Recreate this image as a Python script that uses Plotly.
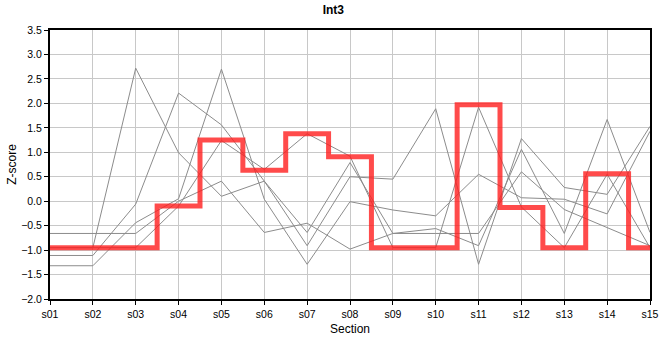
import plotly.graph_objects as go

sections = ["s01", "s02", "s03", "s04", "s05", "s06", "s07", "s08",
            "s09", "s10", "s11", "s12", "s13", "s14", "s15"]

highlight = [-0.95, -0.95, -0.95, -0.10, 1.25, 0.63, 1.38, 0.91,
             -0.95, -0.95, 1.97, -0.13, -0.95, 0.56, -0.95]

series_h = [-0.95, -0.95, -0.95, -0.10, 1.24, 0.65, 1.38, 0.92,
            -0.95, -0.95, 1.92, -0.12, -0.95, 0.55, -0.95]
series_a = [-0.95, -0.95, 2.72, 0.99, 0.10, 0.41, -0.64, 0.79,
            -0.66, -0.56, -0.91, 1.06, -0.66, 1.67, -0.64]
series_b = [-1.11, -1.11, -0.06, 2.21, 1.56, 0.41, -0.91, 0.50,
            0.45, 1.89, -1.29, 1.28, 0.28, 0.14, 1.53]
series_c = [-1.32, -1.32, -0.44, 0.05, 2.70, 0.04, -1.29, -0.01,
            -0.18, -0.30, 0.55, 0.07, 0.04, -0.26, 1.43]
series_d = [-0.66, -0.66, -0.66, 0.00, 0.41, -0.64, -0.45, -0.98,
            -0.66, -0.66, -0.66, 0.60, -0.17, -0.54, -0.91]

gray_series = [series_a, series_b, series_c, series_d, series_h]

y_ticks = [-2.0, -1.5, -1.0, -0.5, 0.0, 0.5, 1.0, 1.5, 2.0, 2.5, 3.0, 3.5]

fig = go.Figure()
for s in gray_series:
    fig.add_trace(go.Scatter(x=sections, y=s, mode="lines",
                             line=dict(color="#8c8c8c", width=1),
                             showlegend=False, hoverinfo="skip"))

fig.add_trace(go.Scatter(x=sections, y=highlight, mode="lines",
                         line=dict(color="rgba(255,30,30,0.8)", width=5, shape="hvh"),
                         showlegend=False))

font = "Liberation Sans, Arial, sans-serif"
fig.update_layout(
    width=660, height=360,
    margin=dict(l=50, r=10, t=30, b=61, autoexpand=False),
    paper_bgcolor="white", plot_bgcolor="white",
    title=dict(text="<b>Int3</b>", x=0.505, xref="container", y=0.985,
               yanchor="top", font=dict(family=font, size=12, color="black")),
    font=dict(family=font, size=10.5, color="black"),
)
fig.update_xaxes(
    type="category", categoryorder="array", categoryarray=sections,
    range=[0, 14], showgrid=True, gridcolor="#c8c8c8", gridwidth=1,
    showline=True, linecolor="black", linewidth=2, mirror=True,
    ticks="outside", ticklen=4, tickcolor="black", automargin=False,
    title=dict(text="Section", font=dict(family=font, size=12), standoff=6),
    tickfont=dict(family=font, size=10.5),
)
fig.update_yaxes(
    range=[-2.0, 3.5], tickvals=y_ticks, tickformat=".1f",
    showgrid=True, gridcolor="#c8c8c8", gridwidth=1, zeroline=False,
    showline=True, linecolor="black", linewidth=2, mirror=True,
    ticks="outside", ticklen=4, tickcolor="black", automargin=False,
    title=dict(text="Z-score", font=dict(family=font, size=12), standoff=2),
    tickfont=dict(family=font, size=10.5),
)

fig.write_html("out.html", config={"displayModeBar": False},
               post_script="document.body.style.margin='0';document.body.style.overflow='hidden';")
